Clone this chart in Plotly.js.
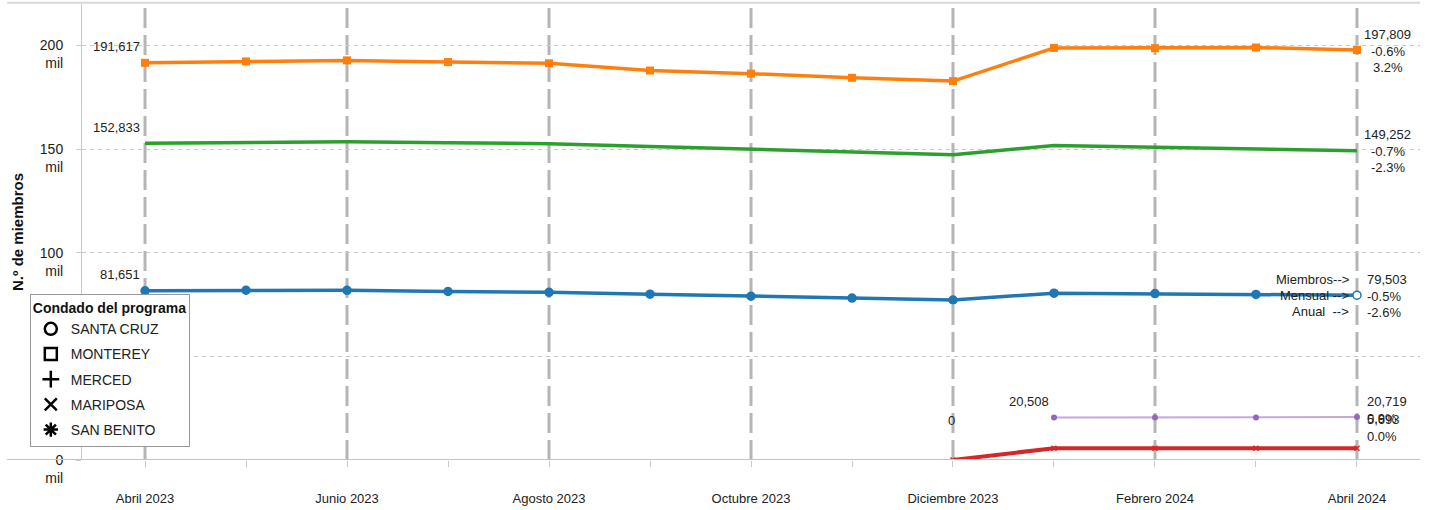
<!DOCTYPE html>
<html><head><meta charset="utf-8">
<script src="https://cdn.plot.ly/plotly-3.0.1.min.js"></script>
<style>body{margin:0;background:#fff}#chart{width:1432px;height:510px}</style>
</head><body><div id="chart"></div>
<script>
// ---- data ----
const months = ['Abril 2023','Mayo 2023','Junio 2023','Julio 2023','Agosto 2023','Septiembre 2023','Octubre 2023','Noviembre 2023','Diciembre 2023','Enero 2024','Febrero 2024','Marzo 2024','Abril 2024'];
const monthTickLabels = ['Abril 2023','','Junio 2023','','Agosto 2023','','Octubre 2023','','Diciembre 2023','','Febrero 2024','','Abril 2024'];
const counties = ['SANTA CRUZ','MONTEREY','MERCED','MARIPOSA','SAN BENITO'];
const santaCruz = [81651,81900,81850,81300,80900,80000,79000,78100,77200,80500,80300,79903,79503];
const monterey  = [191617,192300,192800,192000,191400,187900,186400,184400,182800,198800,198700,199003,197809];
const merced    = [152833,153200,153500,153100,152600,151300,150100,148700,147300,151700,151000,150304,149252];
const mariposa  = [null,null,null,null,null,null,null,null,0,5693,5693,5693,5693];
const sanBenito = [null,null,null,null,null,null,null,null,null,20508,20560,20534,20719];
const monthlyChange = ['-0.5%','-0.6%','-0.7%','0.0%','0.9%'];
const annualChange  = ['-2.6%','3.2%','-2.3%','',''];
const yTickVals = [0,50,100,150,200];
const yTickText = ['0<br>mil','50<br>mil','100<br>mil','150<br>mil','200<br>mil'];
const arrowLabels = ['Miembros-->','Mensual -->','Anual  -->'];

// ---- styles ----
const colors = ['#1f77b4','#ff7f0e','#2ca02c','#d62728','#9467bd'];
const legendSymbols = ['circle-open','square-open','cross-thin-open','x-thin-open','asterisk-open'];
const seriesList = [santaCruz, monterey, merced, mariposa, sanBenito];
const xIdx = months.map((m,i)=>i);

const lastIdx = months.length-1;
const traces = [
  {y: santaCruz, line:{color:colors[0],width:3.5}, mode:'lines+markers',
   marker:{symbol:'circle',size:8,color:santaCruz.map((v,i)=>i===lastIdx?'#ffffff':colors[0]),line:{color:colors[0],width:1.5}}},
  {y: monterey, line:{color:colors[1],width:3.5}, mode:'lines+markers',
   marker:{symbol:'square',size:8,color:colors[1]}},
  {y: merced, line:{color:colors[2],width:3.5}, mode:'lines'},
  {y: mariposa, line:{color:colors[3],width:4}, mode:'lines+markers',
   marker:{symbol:'x-thin',size:5,line:{color:colors[3],width:1.5}}},
  {y: sanBenito, line:{color:'#c3a8dc',width:2}, mode:'lines+markers',
   marker:{symbol:'circle',size:6,color:colors[4]}}
].map((t,i)=>Object.assign({x:xIdx, type:'scatter', name:counties[i], showlegend:false, hoverinfo:'x+y', connectgaps:false}, t));

// legend-only traces with black symbols
counties.forEach((c,i)=>{
  traces.push({x:[null], y:[null], type:'scatter', mode:'markers', name:c, legendgroup:'g'+i, showlegend:true,
    marker:{symbol:legendSymbols[i], size:12, color:'#000', line:{color:'#000', width:2.5}}});
});

// ---- annotations ----
const ann = [];
const base = {showarrow:false, font:{size:13,color:'#222'}};
seriesList.forEach((s,i)=>{
  const first = s.findIndex(v=>v!==null);
  const v0 = s[first];
  ann.push(Object.assign({}, base, {x:first, y:v0/1000, text:v0.toLocaleString('en-US'),
    xanchor:'right', yanchor:'middle', xshift:(v0===0?4:-3), yshift:(v0===0?40:16)}));
  const vl = s[lastIdx];
  const centered = (i===1||i===2);
  const anchor = centered?'center':'left';
  const xs = centered?31:8;
  const up = (i===3)?13:0;
  ann.push(Object.assign({}, base, {x:lastIdx, y:vl/1000, text:vl.toLocaleString('en-US'), xanchor:anchor, yanchor:'middle', xshift:xs, yshift:16+up}));
  ann.push(Object.assign({}, base, {x:lastIdx, y:vl/1000, text:monthlyChange[i], xanchor:anchor, yanchor:'middle', xshift:xs, yshift:-1+up}));
  if (annualChange[i]) ann.push(Object.assign({}, base, {x:lastIdx, y:vl/1000, text:annualChange[i], xanchor:anchor, yanchor:'middle', xshift:xs, yshift:-17+up}));
});
arrowLabels.forEach((t,k)=>{
  ann.push(Object.assign({}, base, {x:lastIdx, y:santaCruz[lastIdx]/1000, text:t, xanchor:'right', yanchor:'middle', xshift:-6, yshift:16-16*k}));
});

// scale y values to thousands
traces.forEach(t=>{ t.y = t.y.map(v=>v===null?null:v/1000); });

const layout = {
  width:1432, height:510,
  margin:{l:82, r:12, t:4, b:50},
  paper_bgcolor:'#ffffff', plot_bgcolor:'#ffffff',
  font:{family:'Liberation Sans, Arial, sans-serif', size:13, color:'#222'},
  xaxis:{range:[-0.624, 12.624], tickmode:'array', tickvals:xIdx, ticktext:monthTickLabels,
    showgrid:false, zeroline:false, showline:false,
    ticks:'outside', ticklen:6, tickcolor:'#c8c8c8', tickwidth:1, ticklabelstandoff:20,
    tickfont:{size:13,color:'#222'}},
  yaxis:{range:[0, 220], tickmode:'array', tickvals:yTickVals, ticktext:yTickText,
    showgrid:true, gridcolor:'#c8c8c8', gridwidth:1, griddash:'4px,4px',
    zeroline:false, showline:true, linecolor:'#c8c8c8', linewidth:1,
    ticks:'outside', ticklen:5, tickcolor:'#c8c8c8', tickfont:{size:14,color:'#222'},
    ticklabelshift:9, ticklabelstandoff:10,
    title:{text:'N.º de miembros', font:{size:15, weight:'bold', color:'#111'}, standoff:12}},
  shapes:[
    ...xIdx.filter(i=>i%2===0).map(i=>({type:'line', xref:'x', yref:'paper', x0:i, x1:i, y0:0, y1:1, layer:'below',
      line:{color:'#b5b5b5', width:3, dash:'20px,7px'}})),
    {type:'line', xref:'paper', yref:'y', x0:-0.056, x1:1, y0:0, y1:0, line:{color:'#c4c4c4', width:2}},
    {type:'line', xref:'paper', yref:'paper', x0:-0.056, x1:1, y0:1.003, y1:1.003, line:{color:'#d8d8d8', width:2}}
  ],
  annotations:ann,
  legend:{x:-0.039, xanchor:'left', y:0.364, yanchor:'top', bgcolor:'#ffffff', bordercolor:'#999999', borderwidth:1,
    title:{text:'Condado del programa', font:{size:14, weight:'bold', color:'#111'}},
    font:{size:14,color:'#222'}, tracegroupgap:4, traceorder:'grouped', itemwidth:30},
  showlegend:true
};

Plotly.newPlot('chart', traces, layout, {displayModeBar:false, staticPlot:true});
</script>
</body></html>
